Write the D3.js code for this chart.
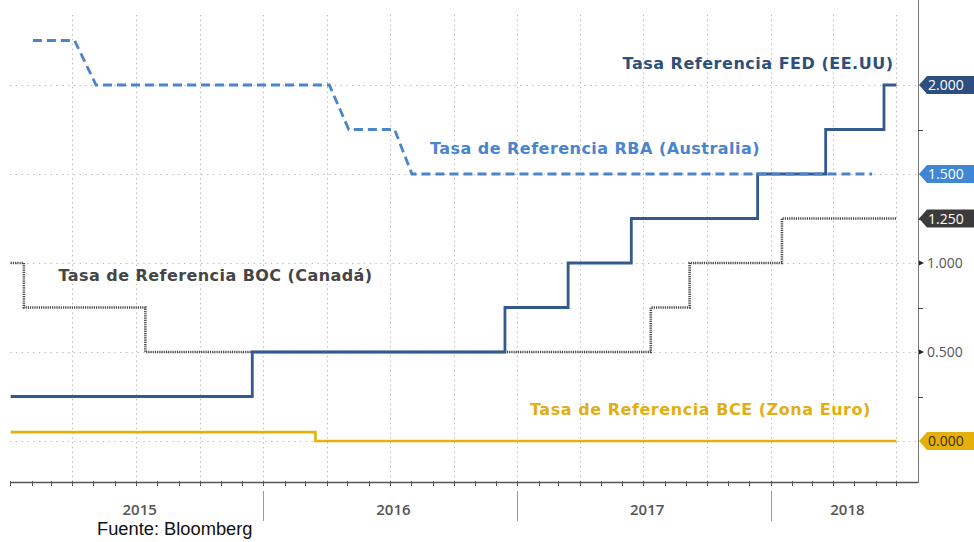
<!DOCTYPE html>
<html>
<head>
<meta charset="utf-8">
<script src="https://cdn.jsdelivr.net/npm/d3@7"></script>
<style>
  body { margin: 0; background: #fff; }
  svg { display: block; }
</style>
</head>
<body>
<div id="chart"></div>
<script>
// Tasas de referencia de bancos centrales, 2015-2018
const fedDates = ["2015-01-02", "2015-12-16", "2016-12-14", "2017-03-15", "2017-06-14", "2017-12-13", "2018-03-21", "2018-06-13", "2018-07-01"];
const fedValues = [0.25, 0.5, 0.75, 1.0, 1.25, 1.5, 1.75, 2.0, 2.0];

const rbaDates = ["2015-02-03", "2015-04-04", "2015-05-05", "2016-04-05", "2016-05-03", "2016-07-08", "2016-08-02", "2018-05-27"];
const rbaValues = [2.25, 2.25, 2.0, 2.0, 1.75, 1.75, 1.5, 1.5];

const bocDates = ["2015-01-02", "2015-01-21", "2015-07-15", "2017-07-12", "2017-09-06", "2018-01-17", "2018-07-01"];
const bocValues = [1.0, 0.75, 0.5, 0.75, 1.0, 1.25, 1.25];

const bceDates = ["2015-01-02", "2016-03-16", "2018-07-01"];
const bceValues = [0.05, 0.0, 0.0];

const years = ["2015", "2016", "2017", "2018"];
const majorTicks = [0, 0.5, 1.0, 1.5, 2.0];
const minorTicks = [0.25, 0.75, 1.25, 1.75];
const plainLabels = [0.5, 1.0];
const badgeValues = [2.0, 1.5, 1.25, 0.0];

const seriesNames = ["Tasa Referencia FED (EE.UU)", "Tasa de Referencia RBA (Australia)", "Tasa de Referencia BOC (Canadá)", "Tasa de Referencia BCE (Zona Euro)"];
const labelDates = ["2018-06-26", "2016-08-28", "2015-03-12", "2017-01-19"];
const labelValues = [2.09, 1.61, 0.9, 0.146];

const W = 974, H = 542;
const plotLeft = 10, plotRight = 918, plotTop = 15, plotBottom = 482;

const parse = d3.timeParse("%Y-%m-%d");
const zip = (ds, vs) => ds.map((d, i) => ({date: parse(d), value: vs[i]}));

const x = d3.scaleTime()
    .domain([new Date(2015, 0, 1), new Date(2018, 7, 1)])
    .range([plotLeft, plotRight]);
const y = d3.scaleLinear()
    .domain([0, 2])
    .range([441, 85]);

const svg = d3.select("#chart").append("svg")
    .attr("width", W)
    .attr("height", H);

// grid
const quarters = d3.timeMonth.every(3).range(new Date(2015, 3, 1), x.domain()[1]);
svg.append("g")
    .attr("stroke", "#b5b5b5")
    .attr("stroke-dasharray", "1.3,3.5")
  .selectAll("line")
  .data(quarters)
  .enter().append("line")
    .attr("x1", d => Math.round(x(d)) + 0.5)
    .attr("x2", d => Math.round(x(d)) + 0.5)
    .attr("y1", plotTop)
    .attr("y2", plotBottom);

svg.append("g")
    .attr("stroke", "#b5b5b5")
    .attr("stroke-dasharray", "1.3,4.5")
  .selectAll("line")
  .data(majorTicks)
  .enter().append("line")
    .attr("x1", plotLeft)
    .attr("x2", plotRight)
    .attr("y1", d => Math.round(y(d)) + 0.5)
    .attr("y2", d => Math.round(y(d)) + 0.5);

// series
const step = d3.line()
    .x(d => x(d.date))
    .y(d => y(d.value))
    .curve(d3.curveStepAfter);
const straight = d3.line()
    .x(d => x(d.date))
    .y(d => y(d.value));

svg.append("path")
    .datum(zip(bceDates, bceValues))
    .attr("fill", "none")
    .attr("stroke", "#e6b10e")
    .attr("stroke-width", 2.6)
    .attr("d", step);

svg.append("path")
    .datum(zip(bocDates, bocValues))
    .attr("fill", "none")
    .attr("stroke", "#4a4a4a")
    .attr("stroke-width", 2.6)
    .attr("stroke-dasharray", "1.2,1")
    .attr("d", step);

svg.append("path")
    .datum(zip(fedDates, fedValues))
    .attr("fill", "none")
    .attr("stroke", "#33598e")
    .attr("stroke-width", 2.8)
    .attr("d", step);

svg.append("path")
    .datum(zip(rbaDates, rbaValues))
    .attr("fill", "none")
    .attr("stroke", "#4c84cc")
    .attr("stroke-width", 2.8)
    .attr("stroke-dasharray", "9,5")
    .attr("d", straight);

// series labels: fixed size, letter-spacing stretched to the reference width
const labelColors = ["#2e4f7c", "#4a84cf", "#454545", "#e2ae12"];
const labelWidths = [271, 330, 314, 341];
const labelAnchors = ["end", "start", "start", "start"];
seriesNames.forEach((name, i) => {
  const t = svg.append("text")
      .attr("x", x(parse(labelDates[i])))
      .attr("y", y(labelValues[i]))
      .attr("text-anchor", labelAnchors[i])
      .attr("fill", labelColors[i])
      .style("font-family", "'DejaVu Sans', Verdana, sans-serif")
      .style("font-weight", "bold")
      .style("font-size", "16px")
      .text(name);
  const len = t.node().getComputedTextLength();
  const ls = (labelWidths[i] - len) / name.length;
  if (ls > 0) t.style("letter-spacing", ls + "px");
  else t.style("font-size", (16 * labelWidths[i] / len) + "px");
  if (labelAnchors[i] === "end" && ls > 0) t.attr("dx", ls);
});

// right axis
svg.append("line")
    .attr("x1", plotRight + 0.5).attr("x2", plotRight + 0.5)
    .attr("y1", 0).attr("y2", plotBottom + 1)
    .attr("stroke", "#777");

svg.append("g")
    .attr("stroke", "#444")
  .selectAll("line")
  .data(minorTicks)
  .enter().append("line")
    .attr("x1", plotRight).attr("x2", plotRight + 5)
    .attr("y1", d => Math.round(y(d)) + 0.5)
    .attr("y2", d => Math.round(y(d)) + 0.5);

const plain = svg.append("g").selectAll("g")
  .data(plainLabels)
  .enter().append("g")
    .attr("transform", d => `translate(${plotRight},${y(d)})`);
plain.append("path")
    .attr("d", "M1,-2.5L6,0L1,2.5Z")
    .attr("fill", "#222");
plain.append("text")
    .attr("x", 9)
    .attr("dy", "0.36em")
    .attr("fill", "#555")
    .style("font-family", "'Open Sans', sans-serif")
    .style("font-size", "14px")
    .text(d => d3.format(".3f")(d));

const badgeFill = ["#2c4f7f", "#3f86d4", "#3b3b3b", "#e6b00c"];
const badgeText = ["#fff", "#fff", "#fff", "#3a2f10"];
const badges = svg.append("g").selectAll("g")
  .data(badgeValues)
  .enter().append("g")
    .attr("transform", d => `translate(${plotRight},${y(d)})`);
badges.append("path")
    .attr("d", `M1,0L9,-9L${W - plotRight},-9L${W - plotRight},9L9,9Z`)
    .attr("fill", (d, i) => badgeFill[i]);
badges.append("text")
    .attr("x", 10)
    .attr("dy", "0.36em")
    .attr("fill", (d, i) => badgeText[i])
    .style("font-family", "'Open Sans', sans-serif")
    .style("font-size", "14px")
    .text(d => d3.format(".3f")(d));

// bottom axis
svg.append("line")
    .attr("x1", plotLeft).attr("x2", plotRight)
    .attr("y1", plotBottom + 0.5).attr("y2", plotBottom + 0.5)
    .attr("stroke", "#555")
    .attr("stroke-width", 1.5);

const months = d3.timeMonth.every(1).range(x.domain()[0], x.domain()[1]);
svg.append("g")
    .attr("stroke", "#555")
  .selectAll("line")
  .data(months)
  .enter().append("line")
    .attr("x1", d => Math.round(x(d)) + 0.5)
    .attr("x2", d => Math.round(x(d)) + 0.5)
    .attr("y1", plotBottom - 1)
    .attr("y2", plotBottom + 4);

const yearStarts = years.map(yr => parse(yr + "-01-01"));
svg.append("g")
    .attr("stroke", "#9a9a9a")
  .selectAll("line")
  .data(yearStarts.slice(1))
  .enter().append("line")
    .attr("x1", d => Math.round(x(d)) + 0.5)
    .attr("x2", d => Math.round(x(d)) + 0.5)
    .attr("y1", 491)
    .attr("y2", 521);

svg.append("g").selectAll("text")
  .data(years)
  .enter().append("text")
    .attr("x", (d, i) => {
      const a = x(yearStarts[i]);
      const b = i < years.length - 1 ? x(yearStarts[i + 1]) : plotRight;
      return (a + b) / 2 + 3;
    })
    .attr("y", 515)
    .attr("text-anchor", "middle")
    .attr("fill", "#555")
    .style("font-family", "'Liberation Sans Narrow', 'Open Sans', sans-serif")
    .style("font-size", "15px")
    .style("font-weight", "600")
    .text(d => d);

svg.append("text")
    .attr("x", 97)
    .attr("y", 535)
    .attr("fill", "#111")
    .style("font-family", "'Liberation Sans', Arial, sans-serif")
    .style("font-size", "18.3px")
    .text("Fuente: Bloomberg");
</script>
</body>
</html>
